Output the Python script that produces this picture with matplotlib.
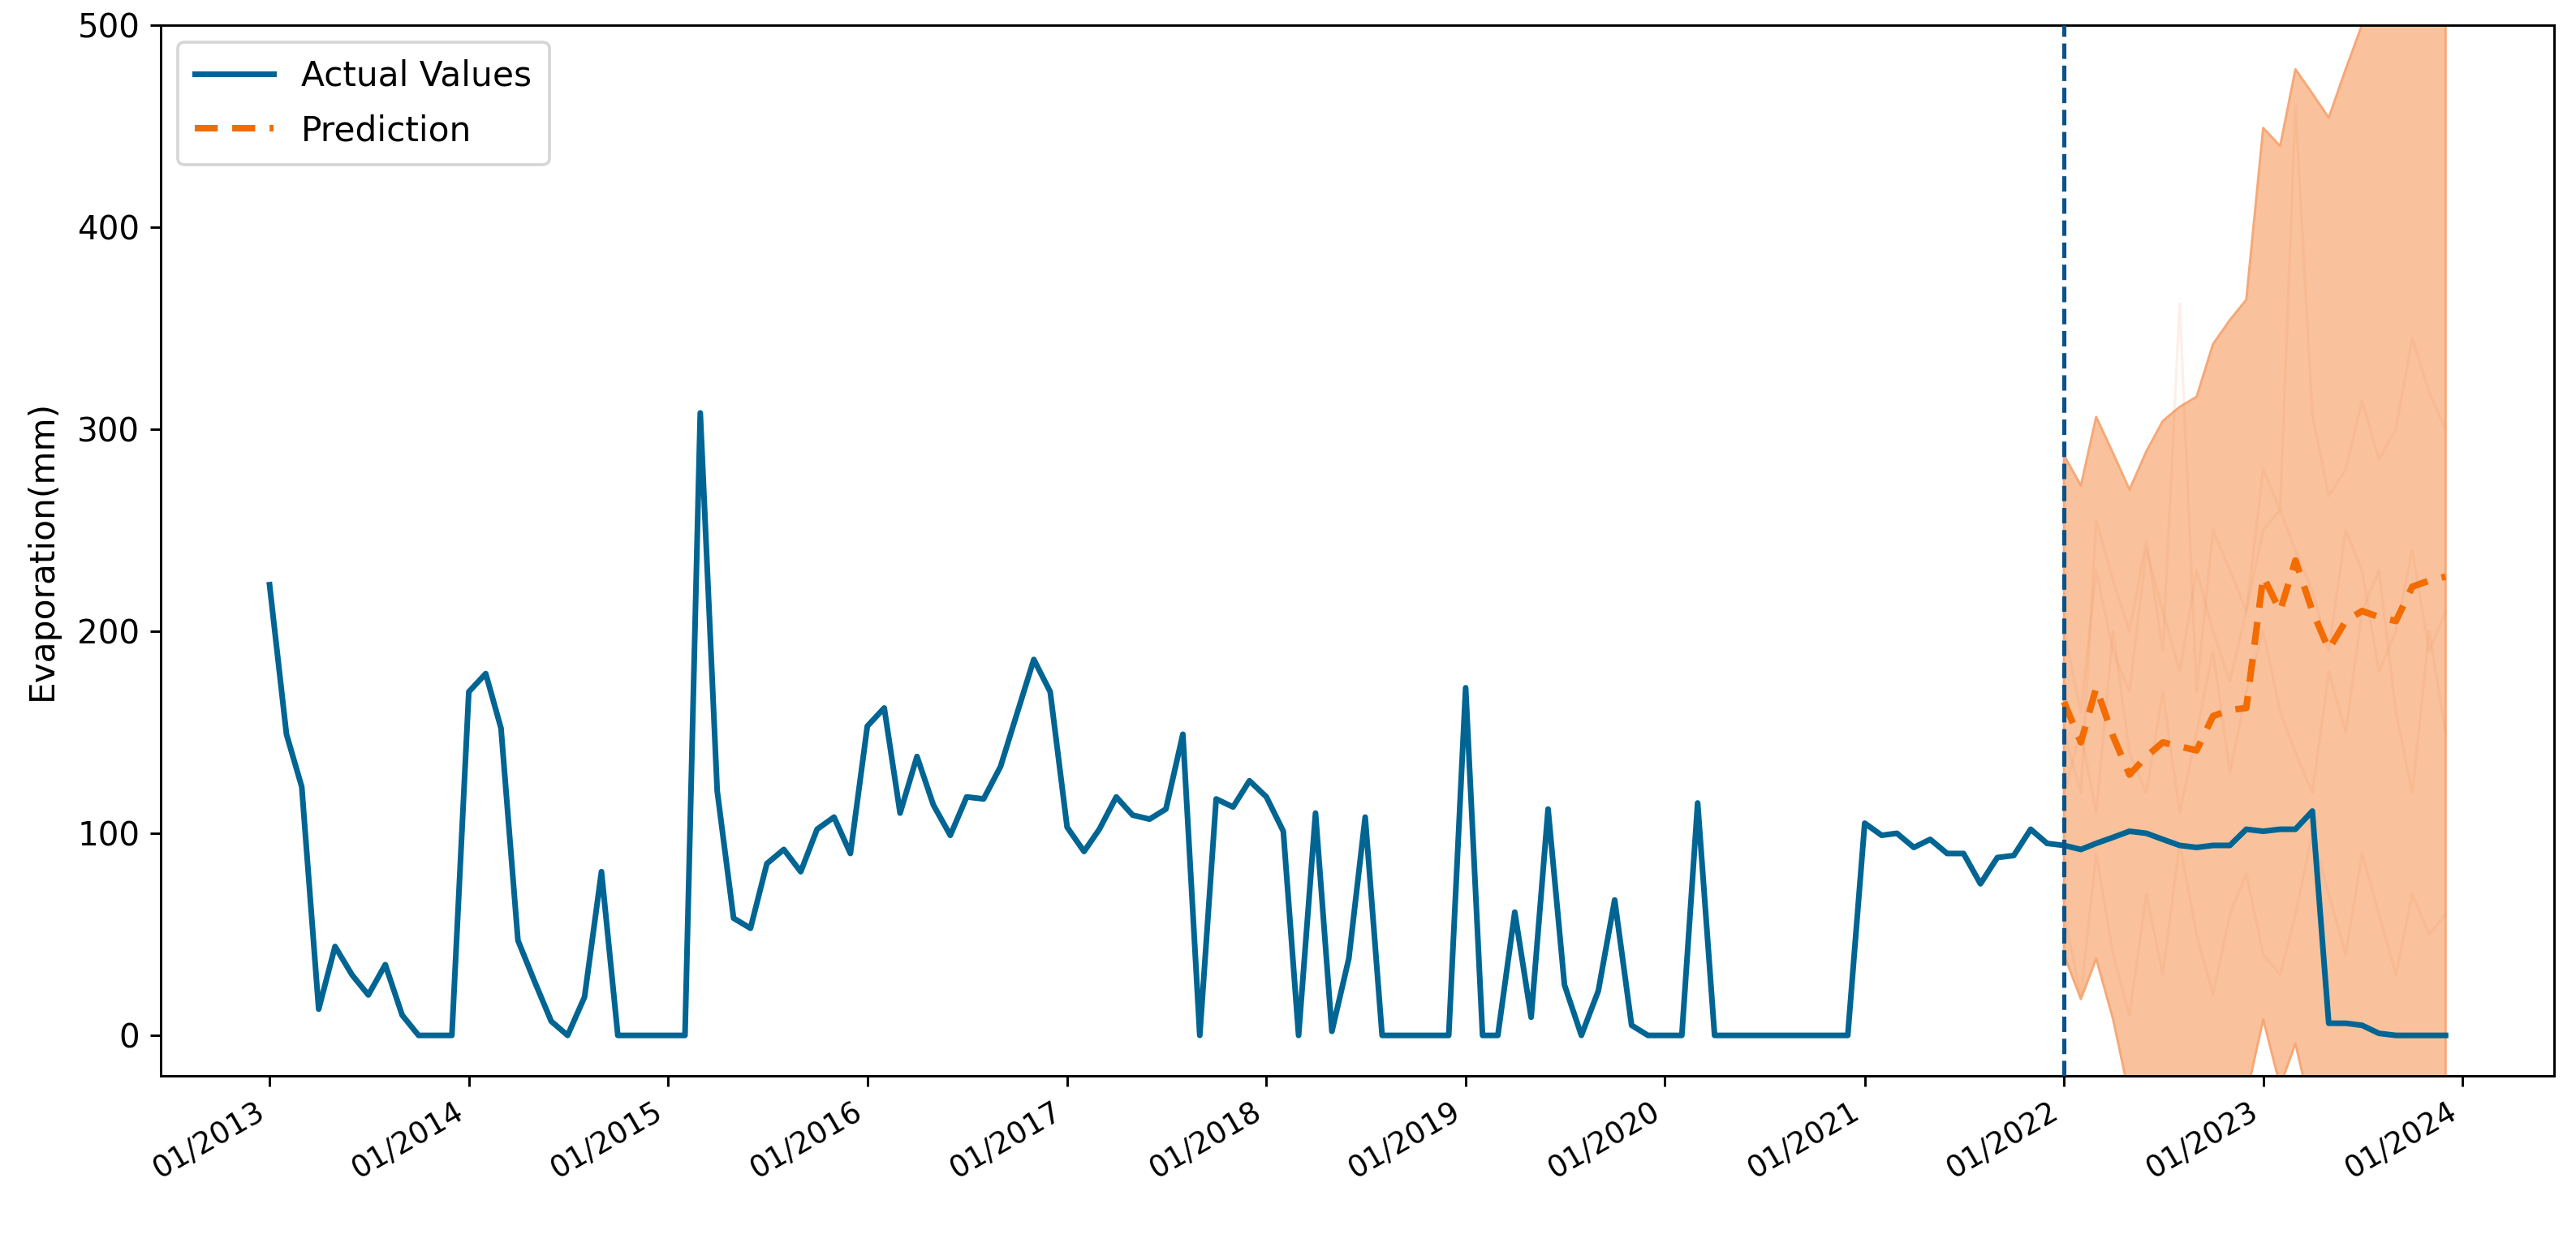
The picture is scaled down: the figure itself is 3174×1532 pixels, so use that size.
import matplotlib
matplotlib.use("Agg")
import matplotlib.pyplot as plt
import matplotlib.dates as mdates
import numpy as np
import pandas as pd

# ---------------- data ----------------
actual_values = [
    223, 149, 123, 13, 44, 30, 20, 35, 10, 0, 0, 0,            # 2013
    170, 179, 152, 47, 27, 7, 0, 19, 81, 0, 0, 0,              # 2014
    0, 0, 308, 121, 58, 53, 85, 92, 81, 102, 108, 90,          # 2015
    153, 162, 110, 138, 114, 99, 118, 117, 133, 159, 186, 170, # 2016
    103, 91, 102, 118, 109, 107, 112, 149, 0, 117, 113, 126,   # 2017
    118, 101, 0, 110, 2, 38, 108, 0, 0, 0, 0, 0,               # 2018
    172, 0, 0, 61, 9, 112, 25, 0, 22, 67, 5, 0,                # 2019
    0, 0, 115, 0, 0, 0, 0, 0, 0, 0, 0, 0,                      # 2020
    105, 99, 100, 93, 97, 90, 90, 75, 88, 89, 102, 95,         # 2021
    94, 92, 95, 98, 101, 100, 97, 94, 93, 94, 94, 102,         # 2022
    101, 102, 102, 111, 6, 6, 5, 1, 0, 0, 0, 0,                # 2023
]
prediction = [
    165, 145, 172, 148, 129, 138, 145, 143, 141, 158, 161, 162,
    227, 210, 235, 210, 191, 205, 210, 207, 205, 222, 225, 227,
]
band_upper = [
    287, 272, 306, 288, 270, 289, 304, 311, 316, 342, 354, 364,
    449, 440, 478, 466, 454, 478, 500, 530, 560, 590, 620, 650,
]
band_lower = [
    40, 18, 38, 8, -30, -50, -45, -40, -60, -50, -40, -30,
    8, -25, -4, -40, -60, -70, -80, -90, -100, -110, -120, -130,
]
sample_a = [150, 120, 255, 225, 200, 245, 190, 362, 170, 250, 230, 210,
            280, 260, 460, 307, 267, 280, 314, 285, 300, 345, 318, 300]
sample_b = [60, 20, 90, 40, 10, 70, 30, 95, 50, 20, 60, 80,
            40, 30, 60, 100, 70, 40, 90, 60, 30, 70, 50, 60]
sample_c = [200, 160, 230, 190, 170, 240, 210, 180, 230, 200, 175, 210,
            250, 260, 240, 220, 190, 250, 230, 180, 200, 240, 190, 210]
sample_d = [120, 150, 110, 200, 140, 120, 170, 110, 150, 190, 130, 170,
            200, 160, 140, 120, 180, 150, 210, 230, 160, 120, 200, 150]
samples = [sample_a, sample_b, sample_c, sample_d]

start_actual = "2013-01-01"
start_forecast = "2022-01-01"
y_label = "Evaporation(mm)"
legend_labels = ["Actual Values", "Prediction"]

dates_actual = pd.date_range(start_actual, periods=len(actual_values), freq="MS")
dates_fc = pd.date_range(start_forecast, periods=len(prediction), freq="MS")

# ---------------- plot ----------------
fig = plt.figure(figsize=(12, 1532 / 264.5), dpi=264.5)
ax = fig.add_axes([0.0624, 0.1345, 0.9292, 0.8455])

ax.fill_between(dates_fc, band_lower, band_upper, color="#F9C29D",
                edgecolor="#F6A877", linewidth=0.8, zorder=1)
for s in samples:
    ax.plot(dates_fc, s, color="#F08A50", alpha=0.13, linewidth=0.9, zorder=1.5)

ax.plot(dates_actual, actual_values, color="#006593", linewidth=1.9,
        label=legend_labels[0], zorder=3)
ax.plot(dates_fc, prediction, color="#F36C00", linewidth=2.2,
        linestyle=(0, (3.5, 2.2)), label=legend_labels[1], zorder=4)
ax.axvline(pd.Timestamp(start_forecast), color="#0A5288", linestyle="--",
           linewidth=1.4, zorder=5)

ax.set_ylim(-20, 500)
ax.set_ylabel(y_label, fontsize=11.5, labelpad=6)

ax.xaxis.set_major_locator(mdates.YearLocator())
ax.xaxis.set_major_formatter(mdates.DateFormatter("%m/%Y"))
ax.tick_params(axis="y", labelsize=11)
ax.tick_params(axis="x", labelsize=10)
for lbl in ax.get_xticklabels():
    lbl.set_rotation(30)
    lbl.set_ha("right")

ax.legend(loc="upper left", fontsize=11.5, handlelength=2.3, borderpad=0.5,
          labelspacing=0.6)

fig.savefig("out.png", dpi=264.5)
